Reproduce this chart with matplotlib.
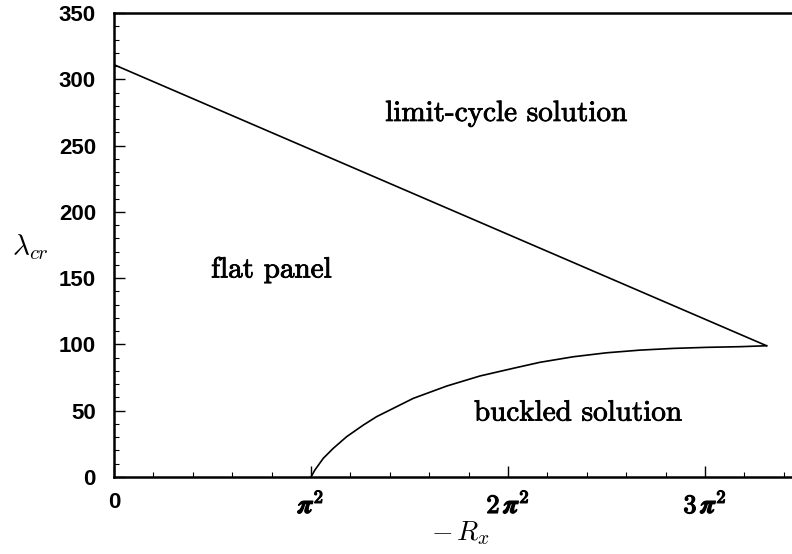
import numpy as np
import matplotlib
matplotlib.use("Agg")
import matplotlib.pyplot as plt
import matplotlib.patheffects as pe
from matplotlib.ticker import MultipleLocator, FixedLocator

PI2 = np.pi ** 2

# Flat-panel flutter boundary (R_x given as multiples of pi^2)
flat_rx_pi2 = [0.0, 3.313]
flat_lam = [311.0, 99.0]

# Buckled-panel flutter boundary
buckled_rx_pi2 = [1.0, 1.020, 1.0625, 1.113, 1.181, 1.266, 1.333, 1.519, 1.689,
                  1.858, 2.027, 2.162, 2.332, 2.501, 2.670, 2.839, 3.009, 3.178, 3.313]
buckled_lam = [0.0, 5.3, 14.1, 21.6, 30.4, 39.2, 45.5, 59.3, 68.6,
               76.2, 82.0, 86.5, 90.7, 93.7, 95.7, 97.0, 97.8, 98.3, 99.0]

xtick_mult = [0, 1, 2, 3]
xtick_labels = ["0", r"$\boldsymbol{\pi}^{\mathbf{2}}$",
                r"$\mathbf{2}\,\boldsymbol{\pi}^{\mathbf{2}}$",
                r"$\mathbf{3}\,\boldsymbol{\pi}^{\mathbf{2}}$"]
ytick_vals = [0, 50, 100, 150, 200, 250, 300, 350]

region_labels = ["limit-cycle solution", "flat panel", "buckled solution"]
region_pos_pi2 = [(1.99, 274), (0.80, 156), (2.355, 48)]

plt.rcParams["mathtext.fontset"] = "cm"

fig = plt.figure(figsize=(7.92, 5.54), dpi=100)
ax = fig.add_axes([114 / 792, 77 / 554, 1 - 114 / 792, (477 - 13) / 554])

ax.plot(np.array(flat_rx_pi2) * PI2, flat_lam, color="black", lw=1.2)
ax.plot(np.array(buckled_rx_pi2) * PI2, buckled_lam, color="black", lw=1.2)

ax.set_xlim(0, 3.442 * PI2)
ax.set_ylim(0, 350)

ax.xaxis.set_major_locator(FixedLocator([m * PI2 for m in xtick_mult]))
ax.xaxis.set_minor_locator(MultipleLocator(PI2 / 5))
ax.set_xticklabels(xtick_labels, fontsize=19)
xl = ax.get_xticklabels()
xl[0].set_fontfamily("Liberation Sans")
xl[0].set_fontweight("bold")
xl[0].set_fontsize(16)
heavy = [pe.withStroke(linewidth=0.9, foreground="black")]
for lab in xl[1:]:
    lab.set_path_effects(heavy)
ax.yaxis.set_major_locator(FixedLocator(ytick_vals))
ax.yaxis.set_minor_locator(MultipleLocator(10))
ax.set_yticklabels([str(v) for v in ytick_vals], fontsize=16,
                   family="Liberation Sans", weight="bold")

ax.tick_params(which="major", direction="in", length=8, width=1.0)
ax.tick_params(which="minor", direction="in", length=3.5, width=0.8)
ax.tick_params(axis="y", which="major", pad=13)
ax.tick_params(axis="x", which="major", pad=11)

ax.spines["right"].set_visible(False)
for s in ("left", "top", "bottom"):
    ax.spines[s].set_linewidth(1.8)

ink = [pe.withStroke(linewidth=0.6, foreground="black")]
for txt, (xm, y) in zip(region_labels, region_pos_pi2):
    ax.text(xm * PI2, y, txt, family="cmr10", fontsize=21,
            ha="center", va="center", path_effects=ink)

fig.text(460 / 792, 1 - 533 / 554, r"$-\,R_x$", fontsize=20,
         ha="center", va="center")
fig.text(30 / 792, 1 - 247 / 554, r"$\lambda_{cr}$", fontsize=21,
         ha="center", va="center")

fig.savefig("out.png", dpi=100)
